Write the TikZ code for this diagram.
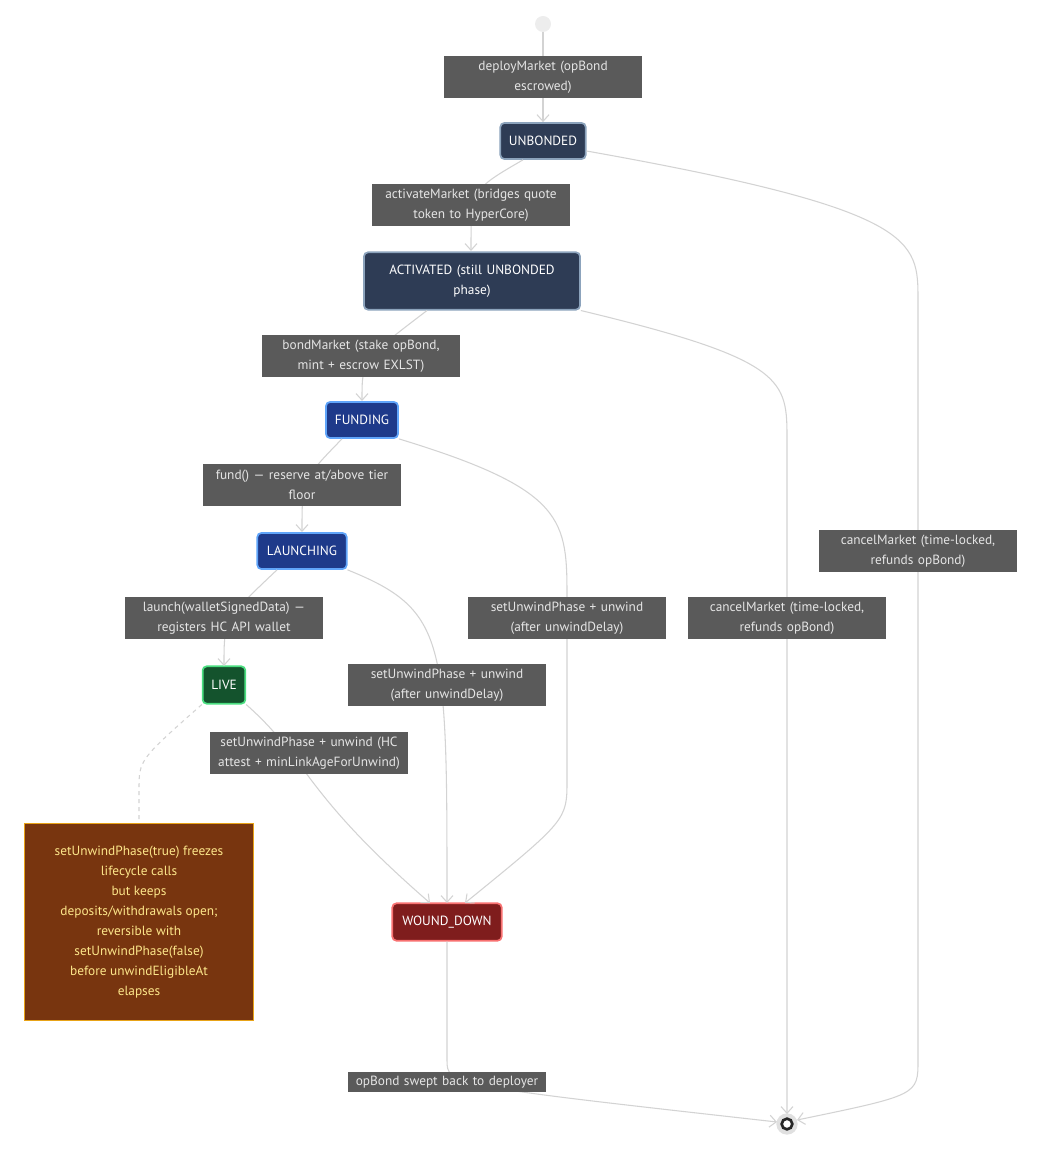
\documentclass[tikz,border=0pt]{standalone}
\usepackage{fontspec}
\setmainfont{PT Sans}
\usetikzlibrary{arrows.meta}
\definecolor{lbl}{HTML}{5A5A5A}
\definecolor{edge}{HTML}{D3D3D3}
\definecolor{dkf}{HTML}{2E3C55}\definecolor{dkd}{HTML}{8CA3BC}
\definecolor{blf}{HTML}{1E3A8A}\definecolor{bld}{HTML}{60A5FA}
\definecolor{grf}{HTML}{14532D}\definecolor{grd}{HTML}{4ADE80}
\definecolor{rdf}{HTML}{7F1D1D}\definecolor{rdd}{HTML}{F87171}
\definecolor{nof}{HTML}{78350F}\definecolor{nod}{HTML}{E8A317}\definecolor{not}{HTML}{FDE68A}
\begin{document}
\begin{tikzpicture}[x=0.75pt,y=-0.75pt,
 every node/.style={font=\fontsize{10}{15}\selectfont},
 st/.style={draw,line width=1.3pt,rounded corners=3pt,text=white,inner sep=0pt,align=center},
 lb/.style={fill=lbl,text=white!90!black,inner sep=0pt,align=center,text width=#1},
 lb/.default={149pt},
 ed/.style={draw=edge,line width=0.8pt,-{Straight Barb[length=5pt,width=9pt]}}]
\useasboundingbox (0,0) rectangle (1049,1151);
\node[circle,fill=black!7,minimum size=12pt,inner sep=0] (start) at (543,24) {};
\node[st,fill=dkf,draw=dkd,minimum width=64pt,minimum height=27pt] (unb) at (543,141) {UNBONDED};
\node[st,fill=dkf,draw=dkd,minimum width=162pt,minimum height=43pt,text width=150pt] (act) at (472,281) {ACTIVATED (still UNBONDED\\phase)};
\node[st,fill=blf,draw=bld,minimum width=54pt,minimum height=27pt] (fund) at (362,420) {FUNDING};
\node[st,fill=blf,draw=bld,minimum width=67pt,minimum height=27pt] (lau) at (302,551) {LAUNCHING};
\node[st,fill=grf,draw=grd,minimum width=32pt,minimum height=28pt] (live) at (224,685) {LIVE};
\node[st,fill=rdf,draw=rdd,minimum width=82pt,minimum height=28pt] (wd) at (447,922) {WOUND\_DOWN};
\node[draw=nod,line width=1pt,fill=nof,text=not,minimum width=172pt,minimum height=148pt,align=center] (note) at (139,922) {setUnwindPhase(true) freezes\\lifecycle calls\\but keeps\\deposits/withdrawals open;\\reversible with\\setUnwindPhase(false)\\before unwindEligibleAt\\elapses};
\fill[black!12] (787,1124) circle (8pt);
\node[circle,draw=black!85,line width=2pt,fill=white,minimum size=8pt,inner sep=0] (end) at (787,1124) {};
% edges
\draw[ed] (start) -- (unb);
\draw[ed] (unb.south) ++(-20,0) .. controls (471,190) .. (471,251);
\draw[ed] (act.south) ++(-45,0) .. controls (362,360) .. (362,401);
\draw[ed] (fund.south) ++(-20,0) .. controls (302,480) .. (302,532);
\draw[ed] (lau.south) ++(-25,0) .. controls (224,620) .. (224,666);
\draw[ed] (live.south east) .. controls (309,760) and (300,790) .. (430,903);
\draw[ed] (lau.south east) .. controls (447,610) and (447,640) .. (447,903);
\draw[ed] (fund.south east) .. controls (567,490) and (567,520) .. (567,600) -- (567,780) .. controls (567,820) .. (465,903);
\draw[ed] (act.south east) .. controls (787,360) and (787,380) .. (787,440) -- (787,1114);
\draw[ed] (unb.east) ++(0,10) .. controls (918,210) and (918,240) .. (918,300) -- (918,1060) .. controls (918,1095) .. (797,1120);
\draw[ed] (wd.south) -- (447,1060) .. controls (447,1085) .. (777,1122);
\draw[draw=edge,line width=0.8pt,dashed] (live.south west) .. controls (139,760) .. (139,790) -- (note.north);
% labels
\node[lb,minimum height=31pt] (l1) at (543,77) {deployMarket (opBond\\escrowed)};
\node[lb,minimum height=31pt] (l2) at (471,205) {activateMarket (bridges quote\\token to HyperCore)};
\node[lb,minimum height=31pt] (l3) at (361,356) {bondMarket (stake opBond,\\mint + escrow EXLST)};
\node[lb,minimum height=31pt] (l4) at (302,485) {fund() — reserve at/above tier\\floor};
\node[lb,minimum height=31pt] (l5) at (224,618) {launch(walletSignedData) —\\registers HC API wallet};
\node[lb,minimum height=31pt] (l6) at (309,753) {setUnwindPhase + unwind (HC\\attest + minLinkAgeForUnwind)};
\node[lb,minimum height=31pt] (l7) at (447,685) {setUnwindPhase + unwind\\(after unwindDelay)};
\node[lb,minimum height=31pt] (l8) at (567,618) {setUnwindPhase + unwind\\(after unwindDelay)};
\node[lb,minimum height=31pt] (l9) at (787,618) {cancelMarket (time-locked,\\refunds opBond)};
\node[lb,minimum height=31pt] (l10) at (918,551) {cancelMarket (time-locked,\\refunds opBond)};
\node[lb=148pt,minimum height=15pt] (l11) at (447,1082) {opBond swept back to deployer};
\end{tikzpicture}
\end{document}
